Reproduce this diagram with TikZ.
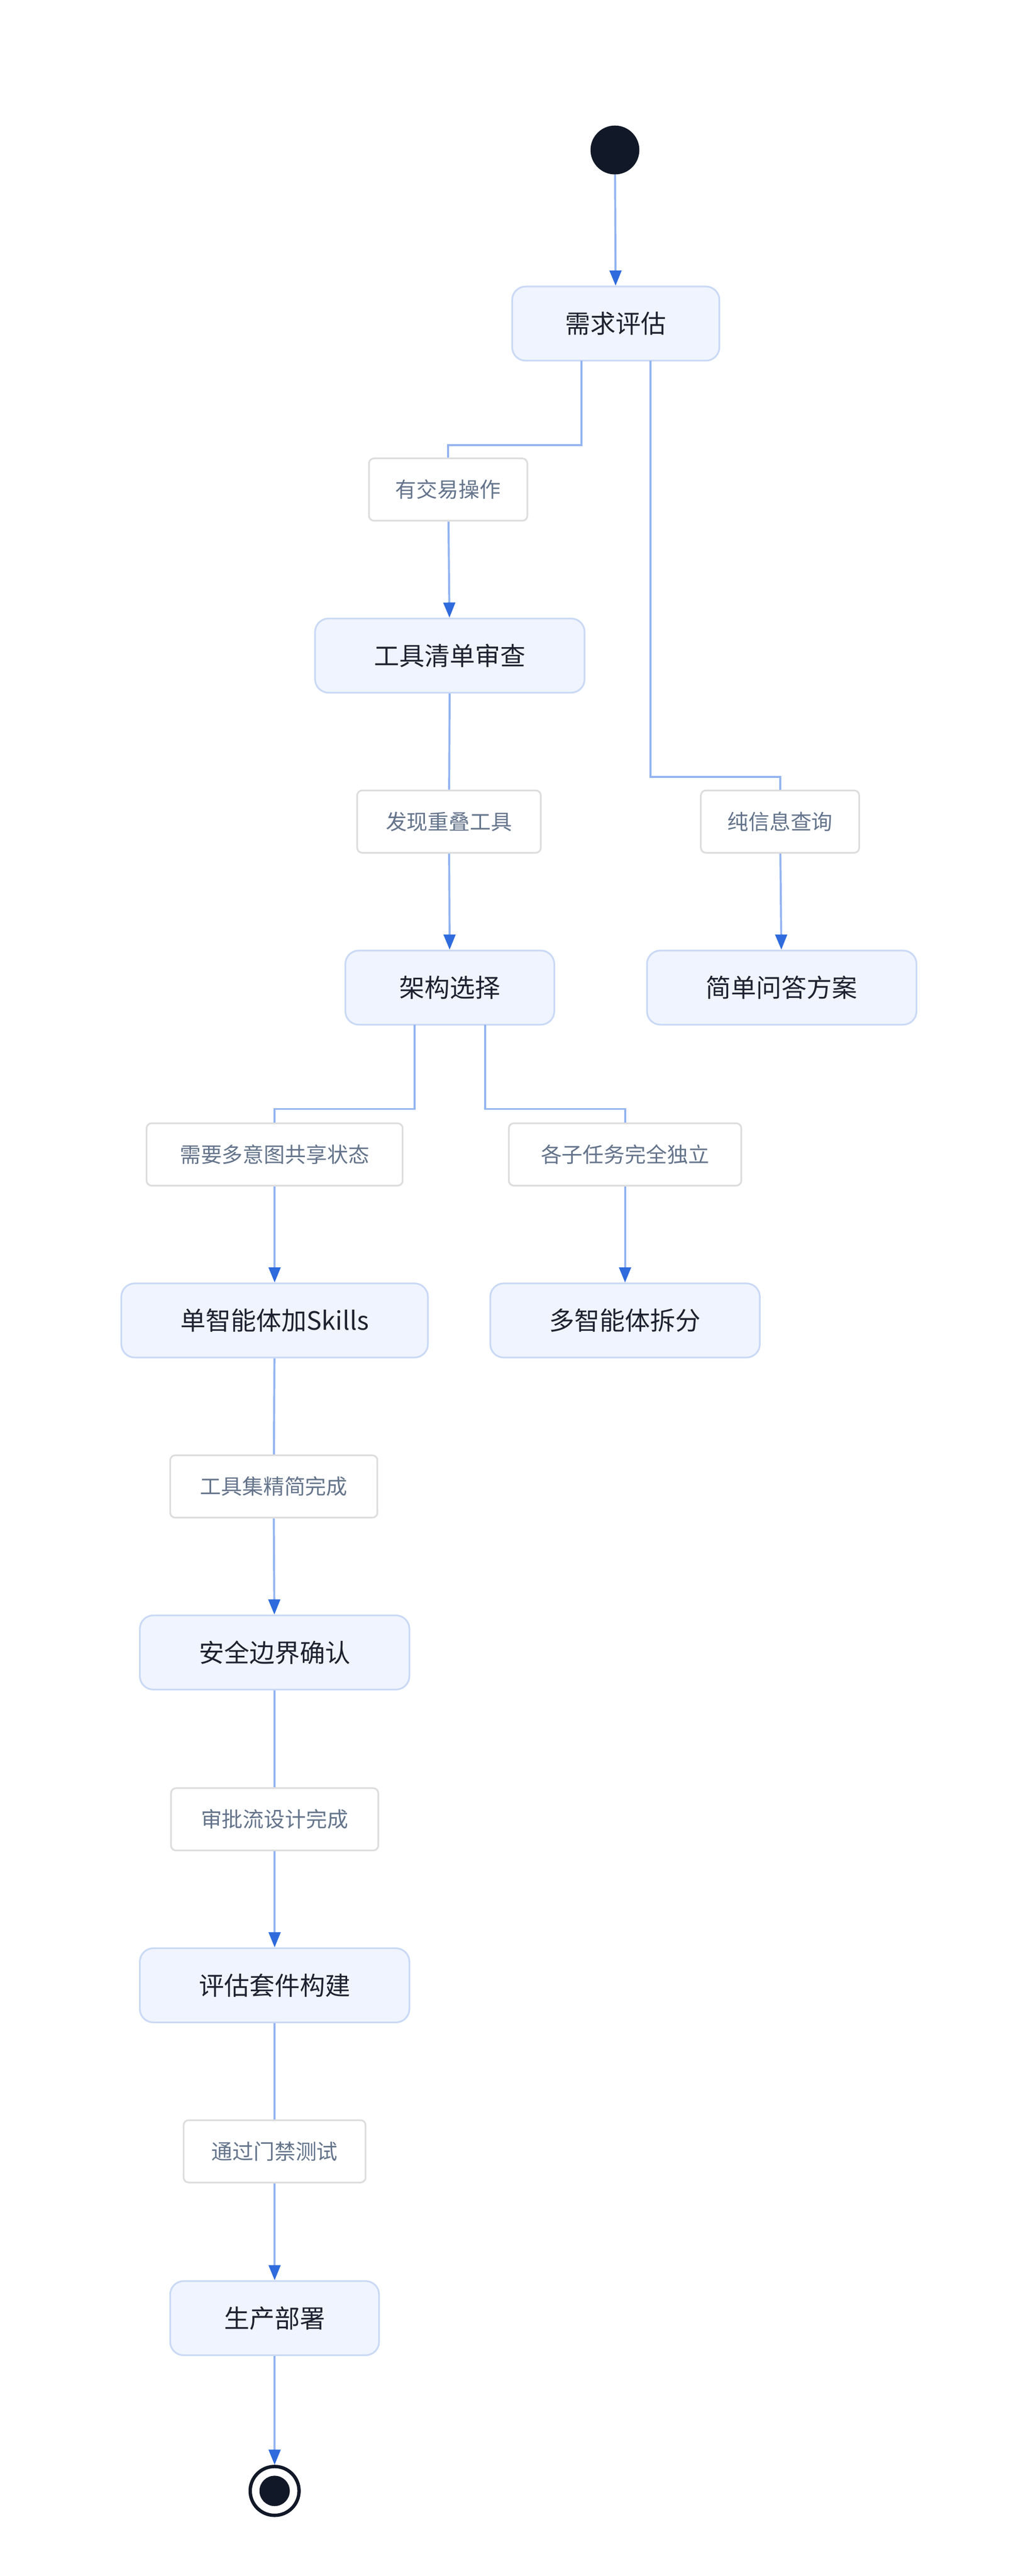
\documentclass[tikz,border=0pt]{standalone}
\usepackage{fontspec}
\setmainfont{Noto Sans CJK SC}
\usetikzlibrary{arrows.meta}
\definecolor{nfill}{HTML}{EFF4FE}
\definecolor{ndraw}{HTML}{C9D9F5}
\definecolor{ntext}{HTML}{1E2230}
\definecolor{ldraw}{HTML}{DDDDDD}
\definecolor{ltext}{HTML}{64748B}
\definecolor{eline}{HTML}{93B4F0}
\definecolor{ehead}{HTML}{2F6BDC}
\definecolor{dark}{HTML}{111827}
\begin{document}
\begin{tikzpicture}[x=1pt,y=-1pt,
 st/.style={draw=ndraw,fill=nfill,line width=1pt,rounded corners=8pt,text=ntext,font=\fontsize{15}{18}\selectfont,minimum height=44pt,inner sep=0pt},
 lb/.style={draw=ldraw,fill=white,line width=1pt,rounded corners=3pt,text=ltext,font=\fontsize{12.5}{15}\selectfont,minimum height=37pt,inner sep=0pt},
 e/.style={draw=eline,line width=1.2pt,-{Triangle[length=9pt,width=7pt,color=ehead]}},
 l/.style={draw=eline,line width=1.2pt}]
\useasboundingbox (0,0) rectangle (600,1528.5);
\node[circle,fill=dark,minimum size=29pt,inner sep=0pt] (s) at (365,89) {};
\node[st,minimum width=123pt] (a) at (365.5,192) {需求评估};
\node[lb,minimum width=94pt] (l1) at (266,290.5) {有交易操作};
\node[st,minimum width=160pt] (b) at (267,389) {工具清单审查};
\node[lb,minimum width=109pt] (l2) at (266.5,487.5) {发现重叠工具};
\node[lb,minimum width=94pt] (l3) at (463,487.5) {纯信息查询};
\node[st,minimum width=124pt] (c) at (267,586) {架构选择};
\node[st,minimum width=160pt] (d) at (464,586) {简单问答方案};
\node[lb,minimum width=152pt] (l4) at (163,685) {需要多意图共享状态};
\node[lb,minimum width=138pt] (l5) at (371,685) {各子任务完全独立};
\node[st,minimum width=182pt] (f) at (163,783.5) {单智能体加Skills};
\node[st,minimum width=160pt] (g) at (371,783.5) {多智能体拆分};
\node[lb,minimum width=123pt] (l6) at (162.5,882) {工具集精简完成};
\node[st,minimum width=160pt] (h) at (163,980.5) {安全边界确认};
\node[lb,minimum width=123pt] (l7) at (163,1079.5) {审批流设计完成};
\node[st,minimum width=160pt] (i) at (163,1178) {评估套件构建};
\node[lb,minimum width=108pt] (l8) at (163,1276.5) {通过门禁测试};
\node[st,minimum width=124pt] (j) at (163,1375.5) {生产部署};
\node[circle,draw=dark,line width=2pt,fill=white,minimum size=29pt,inner sep=0pt] (t) at (163,1478) {};
\fill[dark] (t.center) circle (9pt);
\coordinate (a1) at (345,214); \coordinate (a2) at (386,214);
\coordinate (c1) at (246,608); \coordinate (c2) at (288,608);
\draw[e] (s) -- (a);
\draw[l] (a1) |- (345,264) -| (l1.north);
\draw[e] (l1) -- (b);
\draw[l] (b) -- (l2);
\draw[e] (l2) -- (c);
\draw[l] (a2) |- (386,461) -| (l3.north);
\draw[e] (l3) -- (d);
\draw[l] (c1) |- (246,658) -| (l4.north);
\draw[e] (l4) -- (f);
\draw[l] (c2) |- (288,658) -| (l5.north);
\draw[e] (l5) -- (g);
\draw[l] (f) -- (l6);
\draw[e] (l6.south) -- (h);
\draw[l] (h) -- (l7);
\draw[e] (l7) -- (i);
\draw[l] (i) -- (l8);
\draw[e] (l8) -- (j);
\draw[e] (j) -- (t);
\end{tikzpicture}
\end{document}
